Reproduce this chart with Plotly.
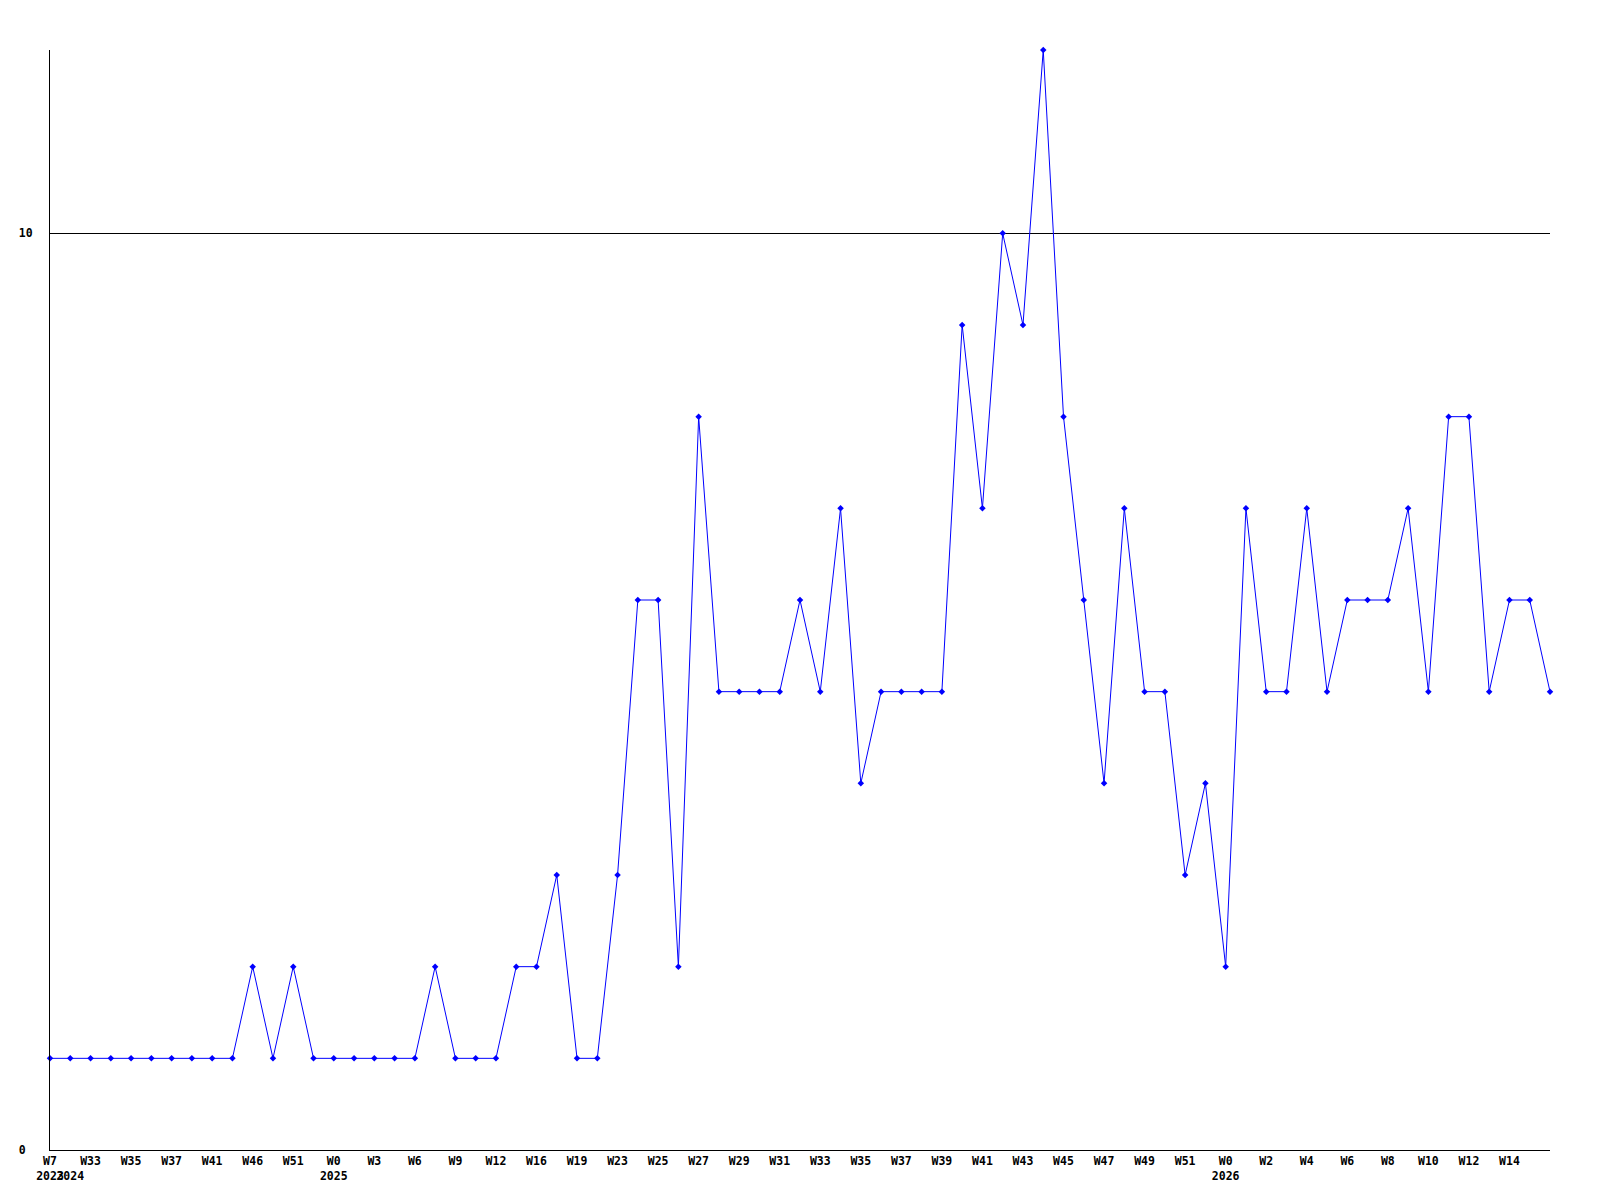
import plotly.graph_objects as go

# Weekly values (one point per week slot)
values = [1, 1, 1, 1, 1, 1, 1, 1, 1, 1,
          2, 1, 2, 1, 1, 1, 1, 1, 1, 2,
          1, 1, 1, 2, 2, 3, 1, 1, 3, 6,
          6, 2, 8, 5, 5, 5, 5, 6, 5, 7,
          4, 5, 5, 5, 5, 9, 7, 10, 9, 12,
          8, 6, 4, 7, 5, 5, 3, 4, 2, 7,
          5, 5, 7, 5, 6, 6, 6, 7, 5, 8,
          8, 5, 6, 6, 5]

# Week tick labels as shown (blank = unlabeled slot)
week_labels = ["W7", "", "W33", "", "W35", "", "W37", "", "W41", "",
               "W46", "", "W51", "", "W0", "", "W3", "", "W6", "",
               "W9", "", "W12", "", "W16", "", "W19", "", "W23", "",
               "W25", "", "W27", "", "W29", "", "W31", "", "W33", "",
               "W35", "", "W37", "", "W39", "", "W41", "", "W43", "",
               "W45", "", "W47", "", "W49", "", "W51", "", "W0", "",
               "W2", "", "W4", "", "W6", "", "W8", "", "W10", "",
               "W12", "", "W14", "", ""]

# Year labels (second row) at the slots where they appear
year_labels = {0: "2023", 1: "2024", 14: "2025", 58: "2026"}

y_tick_vals = [0, 10]
y_tick_text = ["0\u00a0", "10"]

x = list(range(len(values)))
ticktext = []
for i in x:
    w = week_labels[i]
    if i in year_labels:
        ticktext.append((w if w else "\u00a0") + "<br>" + year_labels[i])
    else:
        ticktext.append(w)

font = dict(family="DejaVu Sans Mono", size=11.5, color="black", weight="bold")

fig = go.Figure()
fig.add_trace(go.Scatter(
    x=x, y=values, mode="lines+markers",
    line=dict(color="#0000ff", width=1),
    marker=dict(symbol="diamond", size=5, color="#0000ff"),
    cliponaxis=False, showlegend=False,
))

fig.update_layout(
    width=1600, height=1200,
    margin=dict(l=42, r=58, t=42, b=58, autoexpand=False),
    paper_bgcolor="white", plot_bgcolor="white",
    font=font,
    xaxis=dict(
        range=[0, len(values) - 1], tickmode="array", tickvals=x, ticktext=ticktext,
        showgrid=False, zeroline=False, showline=True, linecolor="black", linewidth=1,
        ticks="", tickfont=font, tickangle=0, fixedrange=True,
    ),
    yaxis=dict(
        range=[0, 12], tickmode="array", tickvals=y_tick_vals, ticktext=y_tick_text,
        showgrid=True, gridcolor="black", gridwidth=1, zeroline=False,
        showline=True, linecolor="black", linewidth=1,
        ticks="", tickfont=font, ticklabelstandoff=14, fixedrange=True,
    ),
)

fig.write_html("out.html")
